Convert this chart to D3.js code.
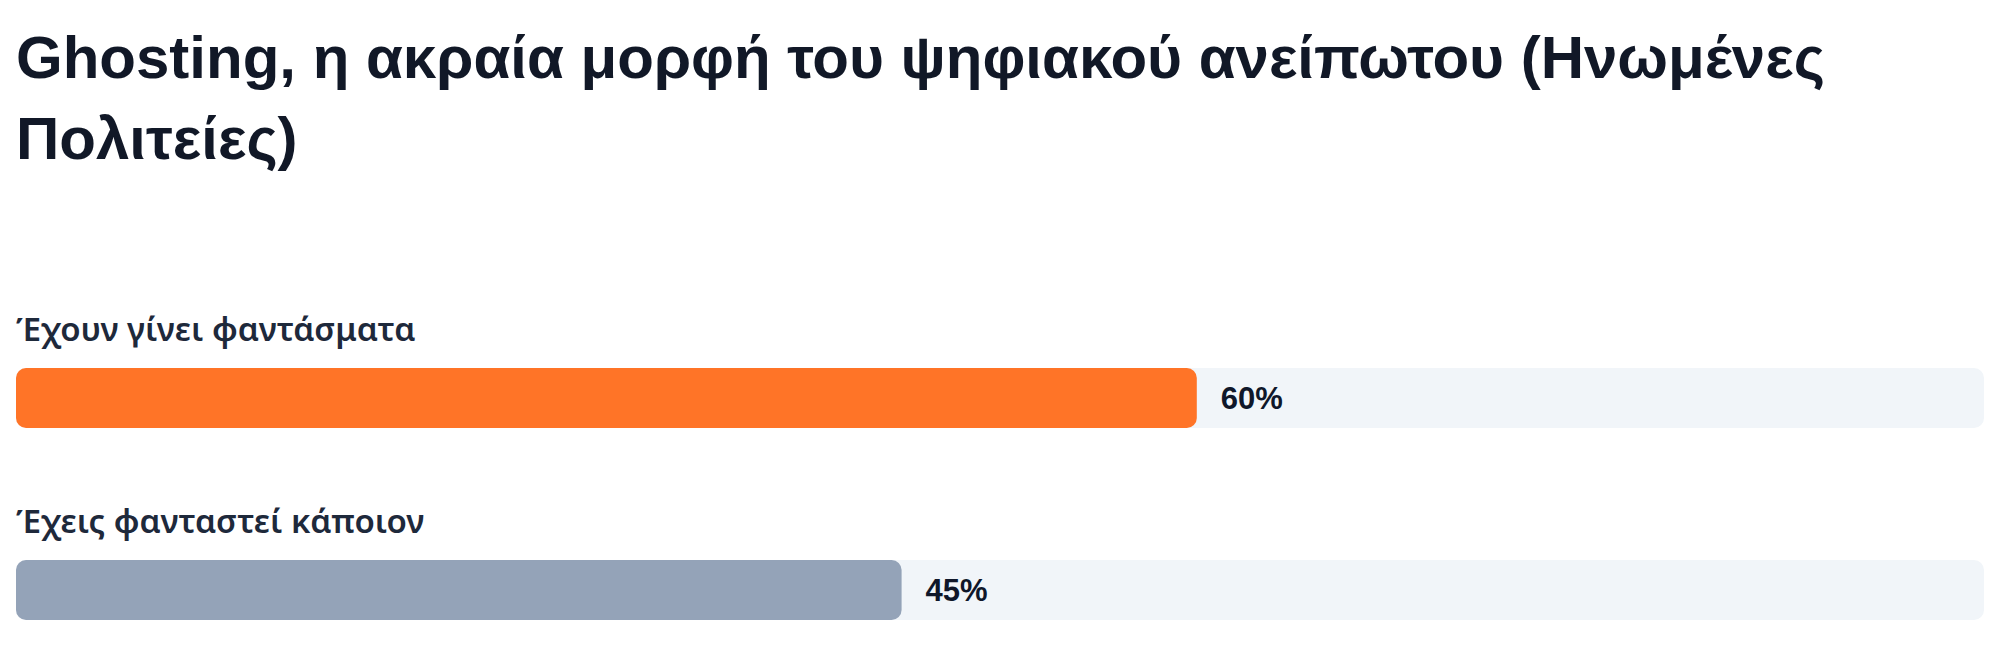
<!DOCTYPE html>
<html>
<head>
<meta charset="utf-8">
<script src="https://cdn.jsdelivr.net/npm/d3@7"></script>
<style>
  html, body { margin: 0; padding: 0; background: #ffffff; }
  svg { display: block; }
</style>
</head>
<body>
<div id="content"></div>
<script>
// Chart data.
var title = "Ghosting, η ακραία μορφή του ψηφιακού ανείπωτου (Ηνωμένες Πολιτείες)";
var categories = ["Έχουν γίνει φαντάσματα", "Έχεις φανταστεί κάποιον"];
var values = [60, 45];
var barColors = ["#ff7427", "#94a3b8"];

// Main SVG container.
var width = 2000;
var height = 668;
var margin = {left : 16, right : 16};
var innerWidth = width - margin.left - margin.right;

var svg = d3.select('#content')
              .append('svg')
              .attr('width', width)
              .attr('height', height);

// Title, wrapped by hand to the available width.
var titleText = svg.append('text')
    .attr('x', margin.left)
    .attr('y', 78)
    .style('font-family', '"Liberation Sans", Arial, sans-serif')
    .style('font-weight', 700)
    .style('font-size', '60px')
    .style('fill', '#111827');

var words = title.split(' ');
var line = [];
var tspan = titleText.append('tspan').attr('x', margin.left).attr('dy', 0);
words.forEach(function(w) {
  line.push(w);
  tspan.text(line.join(' '));
  if (tspan.node().getComputedTextLength() > innerWidth && line.length > 1) {
    line.pop();
    tspan.text(line.join(' '));
    line = [w];
    tspan = titleText.append('tspan')
                .attr('x', margin.left)
                .attr('dy', 81)
                .text(w);
  }
});

// Scales.
var scaleX = d3.scaleLinear().domain([0, 100]).range([0, innerWidth]);
var scaleY = d3.scaleBand().domain(categories).range([308, 692]);

var g = svg.append('g').attr('transform', 'translate(' + margin.left + ',0)');

var rows = g.selectAll('g.row')
    .data(categories)
    .enter()
    .append('g')
    .attr('class', 'row')
    .attr('transform', function(d) { return 'translate(0,' + scaleY(d) + ')'; });

// Category labels.
rows.append('text')
    .attr('x', 0)
    .attr('y', 33)
    .style('font-family', '"Noto Sans", sans-serif')
    .style('font-weight', 600)
    .style('font-size', '33px')
    .style('fill', '#1e293b')
    .text(function(d) { return d; });

// Background tracks.
rows.append('rect')
    .attr('x', 0)
    .attr('y', 60)
    .attr('width', scaleX(100))
    .attr('height', 60)
    .attr('rx', 10)
    .style('fill', '#f1f5f9');

// Bars.
rows.append('rect')
    .attr('x', 0)
    .attr('y', 60)
    .attr('width', function(d, i) { return scaleX(values[i]); })
    .attr('height', 60)
    .attr('rx', 10)
    .style('fill', function(d, i) { return barColors[i]; });

// Value labels.
rows.append('text')
    .attr('x', function(d, i) { return scaleX(values[i]) + 24; })
    .attr('y', 90)
    .attr('dy', '0.35em')
    .style('font-family', '"Liberation Sans", Arial, sans-serif')
    .style('font-weight', 700)
    .style('font-size', '31px')
    .style('fill', '#0f172a')
    .text(function(d, i) { return values[i] + '%'; });
</script>
</body>
</html>
